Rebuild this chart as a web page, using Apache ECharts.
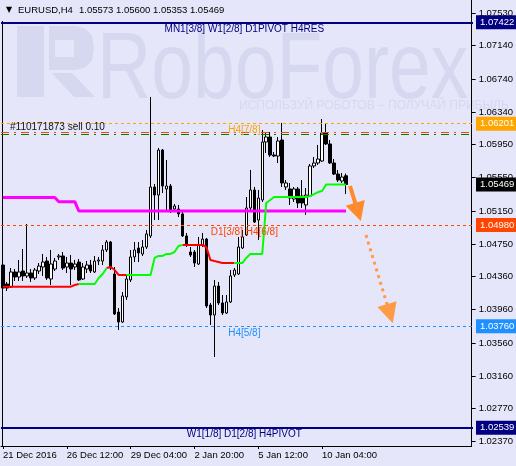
<!DOCTYPE html>
<html><head><meta charset="utf-8">
<script src="https://cdn.jsdelivr.net/npm/echarts@6/dist/echarts.min.js"></script>
<style>html,body{margin:0;padding:0;background:#E6E6FA;}#c{width:516px;height:466px;}</style>
</head><body><div id="c"></div>
<script>
// ---------- data ----------
const xTickLabels = ['21 Dec 2016','26 Dec 12:00','29 Dec 04:00','2 Jan 20:00','5 Jan 12:00','10 Jan 04:00'];
const yTickValues = [1.02370,1.02770,1.03160,1.03560,1.03960,1.04360,1.04750,1.05150,1.05550,1.05950,1.06340,1.06740,1.07140,1.07530];

const opens = [1.04498,1.04269,1.04233,1.04414,1.04354,1.04426,1.04366,1.04402,1.04342,1.04426,
1.04474,1.04546,1.04330,1.04450,1.04595,1.04607,1.04474,1.04522,1.04474,1.04534,
1.04330,1.04450,1.04498,1.04414,1.04546,1.04546,1.04679,1.04775,1.04390,1.03932,
1.03812,1.04113,1.04318,1.04595,1.04703,1.04631,1.04715,1.04848,1.05438,1.05341,
1.05883,1.05414,1.05450,1.05173,1.05173,1.05113,1.04848,1.04655,1.04655,1.04510,
1.04739,1.04811,1.04016,1.03896,1.04245,1.04041,1.03920,1.04053,1.04378,1.04390,
1.04703,1.04860,1.05185,1.05402,1.05040,1.05281,1.05980,1.06040,1.05823,1.05811,
1.06004,1.05438,1.05414,1.05293,1.05414,1.05329,1.05221,1.05329,1.05691,1.05727,
1.05751,1.06088,1.05956,1.05727,1.05594,1.05510,1.05573];
const closes = [1.04221,1.04221,1.04414,1.04354,1.04414,1.04366,1.04402,1.04342,1.04438,1.04486,
1.04534,1.04342,1.04510,1.04546,1.04607,1.04462,1.04522,1.04450,1.04510,1.04318,
1.04474,1.04498,1.04426,1.04546,1.04559,1.04679,1.04775,1.04462,1.03908,1.03812,
1.04125,1.04330,1.04595,1.04679,1.04643,1.04715,1.04872,1.05438,1.05341,1.05883,
1.05450,1.05450,1.05161,1.05209,1.05113,1.04848,1.04751,1.04619,1.04522,1.04739,
1.04811,1.04004,1.03896,1.04245,1.04041,1.03920,1.04053,1.04366,1.04438,1.04715,
1.04836,1.05185,1.05402,1.05016,1.05305,1.05980,1.06040,1.05823,1.05811,1.05992,
1.05486,1.05486,1.05305,1.05414,1.05245,1.05245,1.05341,1.05691,1.05727,1.05775,
1.06088,1.05956,1.05727,1.05594,1.05522,1.05558,1.05469];
const highs = [1.04522,1.04294,1.04462,1.04450,1.04559,1.04691,1.04992,1.04450,1.04462,1.04522,
1.04631,1.04595,1.04679,1.04583,1.04631,1.04655,1.04595,1.04619,1.04559,1.04571,
1.04522,1.04546,1.04559,1.04607,1.04595,1.04739,1.04799,1.04787,1.04474,1.03980,
1.04173,1.04378,1.04679,1.04775,1.04775,1.04799,1.04920,1.06522,1.05474,1.05908,
1.05896,1.05763,1.05474,1.05233,1.05221,1.05137,1.04884,1.04715,1.04679,1.04836,
1.04884,1.04824,1.04041,1.04318,1.04294,1.04137,1.04137,1.04438,1.04462,1.04836,
1.04920,1.05317,1.05643,1.05438,1.05402,1.06124,1.06088,1.06100,1.05859,1.06040,
1.06209,1.05522,1.05486,1.05438,1.05438,1.05522,1.05426,1.05715,1.05799,1.05944,
1.06257,1.06209,1.06004,1.05775,1.05643,1.05606,1.05600];
const lows = [1.04185,1.04185,1.04221,1.04306,1.04306,1.04306,1.04342,1.04294,1.04318,1.04390,
1.04366,1.04318,1.04257,1.04426,1.04559,1.04438,1.04402,1.04257,1.04438,1.04306,
1.04318,1.04402,1.04402,1.04402,1.04498,1.04498,1.04655,1.04438,1.03896,1.03715,
1.03800,1.04077,1.04294,1.04534,1.04534,1.04607,1.04691,1.04824,1.05040,1.05040,
1.05365,1.05161,1.05125,1.05137,1.05076,1.04836,1.04715,1.04595,1.04474,1.04498,
1.04715,1.03980,1.03776,1.03390,1.04016,1.03896,1.03908,1.04041,1.04354,1.04378,
1.04691,1.04848,1.05137,1.05004,1.04799,1.05257,1.05847,1.05799,1.05799,1.05727,
1.05438,1.05402,1.05221,1.05257,1.05185,1.05185,1.05101,1.05317,1.05667,1.05703,
1.05739,1.05944,1.05715,1.05582,1.05498,1.05486,1.05353];

const magentaLine = [1.05311,1.05311,1.05311,1.05311,1.05311,1.05311,1.05311,1.05311,1.05311,1.05311,
1.05311,1.05311,1.05311,1.05311,1.05261,1.05261,1.05261,1.05261,1.05261,1.05149,
1.05149,1.05149,1.05149,1.05149,1.05149,1.05149,1.05149,1.05149,1.05149,1.05149,
1.05149,1.05149,1.05149,1.05149,1.05149,1.05149,1.05149,1.05149,1.05149,1.05149,
1.05149,1.05149,1.05149,1.05149,1.05149,1.05149,1.05149,1.05149,1.05149,1.05149,
1.05149,1.05149,1.05149,1.05149,1.05149,1.05149,1.05149,1.05149,1.05149,1.05149,
1.05149,1.05149,1.05149,1.05149,1.05149,1.05149,1.05149,1.05149,1.05149,1.05149,
1.05149,1.05149,1.05149,1.05149,1.05149,1.05149,1.05149,1.05149,1.05149,1.05149,
1.05149,1.05149,1.05149,1.05149,1.05149,1.05149,1.05149];

const trendLine = [1.04237,1.04237,1.04237,1.04237,1.04237,1.04237,1.04237,1.04237,1.04237,1.04237,
1.04237,1.04237,1.04237,1.04237,1.04237,1.04237,1.04237,1.04237,1.04257,1.04270,
1.04270,1.04270,1.04270,1.04270,1.04342,1.04390,1.04462,1.04474,1.04438,1.04378,
1.04378,1.04378,1.04378,1.04378,1.04378,1.04378,1.04378,1.04378,1.04583,1.04607,
1.04607,1.04631,1.04631,1.04655,1.04727,1.04739,1.04739,1.04739,1.04739,1.04739,
1.04739,1.04715,1.04559,1.04546,1.04534,1.04522,1.04522,1.04522,1.04522,1.04522,
1.04522,1.04583,1.04631,1.04631,1.04631,1.04631,1.05245,1.05281,1.05317,1.05317,
1.05317,1.05317,1.05317,1.05317,1.05317,1.05317,1.05317,1.05329,1.05353,1.05377,
1.05389,1.05468,1.05468,1.05468,1.05468,1.05468,1.05468];
// colour of the segment leaving each bar (r = red, g = green)
const trendSegColor = ('rrrrrrrrrrrrrrrrrrr' + 'ggggggg' + 'rrrrr' + 'gggggggggggggg' + 'rrrrrrrrrrrrr' + 'gggggggggggggggggggggggggggg').split('');

const levelPrices = { h4res: 1.07422, h78: 1.06201, orderSell: 1.06097, orderSl: 1.06077, bid: 1.05469, h68: 1.04980, h58: 1.03760, h4pivot: 1.02539 };
const levelTexts = { h4res: 'MN1[3/8] W1[2/8] D1PIVOT H4RES', h78: 'H4[7/8]', order: '#110171873 sell 0.10', h68: 'D1[3/8] H4[6/8]', h58: 'H4[5/8]', h4pivot: 'W1[1/8] D1[2/8] H4PIVOT' };
const arrowSolid = [[87, 1.05450], [89, 1.05137]];
const arrowDotted = [[91, 1.04860], [97, 1.03912]];

// ---------- categories (H4 bars, weekends skipped) ----------
const SLOTS = 118;
const months = ['Jan','Feb','Mar','Apr','May','Jun','Jul','Aug','Sep','Oct','Nov','Dec'];
const categories = [];
(function(){
  let t = Date.UTC(2016, 11, 21, 20);
  while (categories.length < SLOTS) {
    const d = new Date(t); const wd = d.getUTCDay();
    if (wd !== 0 && wd !== 6) categories.push(d.getUTCDate() + ' ' + months[d.getUTCMonth()] + ' ' + String(d.getUTCHours()).padStart(2,'0') + ':00');
    t += 4 * 3600e3;
  }
})();

const candleData = opens.map((o, i) => [o, closes[i], lows[i], highs[i]]);
const redData = trendLine.map((v, i) => (trendSegColor[i] === 'r' || trendSegColor[i-1] === 'r') ? v : null);
const greenData = trendLine.map((v, i) => (trendSegColor[i] === 'g' || trendSegColor[i-1] === 'g') ? v : null);

const FONT = '"Liberation Sans", Arial, sans-serif';
const Y_MIN = 1.023181, Y_MAX = 1.076902;
const WM = '#D6D8EF';
const GRID_L = 1, GRID_R = 43, W = 516;
const CLEAR = 'rgba(0,0,0,0)';

function boxLabel(text, bg) {
  return { show: true, position: 'end', formatter: text, distance: 3, backgroundColor: bg, color: '#fff',
    fontFamily: FONT, fontSize: 9.5, padding: [2, 4, 1, 4], lineHeight: 11 };
}
// full-width horizontal level: starts at the plot's left edge, ends at its right edge
function hLine(price, color, width, type, label) {
  return [
    { coord: [0, price], x: GRID_L, lineStyle: { color: color, width: width, type: type }, label: label },
    { coord: [SLOTS - 1, price], x: W - GRID_R }
  ];
}
function textLine(price, text, color) {
  return [
    { coord: [30, price], lineStyle: { color: CLEAR, width: 0 }, label: { show: true, position: 'insideMiddleBottom', formatter: text, color: color, fontFamily: FONT, fontSize: 10, distance: 2 } },
    { coord: [91, price] }
  ];
}

const chart = echarts.init(document.getElementById('c'), null, { renderer: 'canvas' });
chart.setOption({
  animation: false,
  backgroundColor: '#E6E6FA',
  grid: { left: GRID_L, right: GRID_R, top: 0, bottom: 20 },
  xAxis: {
    type: 'category', data: categories, boundaryGap: true,
    axisLine: { show: true, lineStyle: { color: '#000', width: 1 } },
    axisTick: { show: true, alignWithLabel: true, length: 3, interval: (i) => i % 16 === 0 && i <= 80, lineStyle: { color: '#000' } },
    axisLabel: { show: true, interval: (i) => i % 16 === 0 && i <= 80, formatter: (v, i) => xTickLabels[i / 16],
      align: 'left', margin: 4, color: '#000', fontSize: 9.5, fontFamily: FONT },
    splitLine: { show: false }
  },
  yAxis: {
    type: 'value', position: 'right', min: Y_MIN, max: Y_MAX,
    axisLine: { show: true, lineStyle: { color: '#000', width: 1 } },
    axisTick: { show: true, length: 4, customValues: yTickValues, lineStyle: { color: '#000' } },
    axisLabel: { show: true, customValues: yTickValues, formatter: (v) => v.toFixed(5), margin: 7, color: '#000', fontSize: 9.5, fontFamily: FONT },
    splitLine: { show: false }
  },
  graphic: [
    { type: 'text', x: 97, y: 24, z: -10, silent: true, scaleX: 0.79,
      style: { text: 'RoboForex', font: '95px ' + FONT, fill: WM } },
    { type: 'text', x: 239, y: 100, z: -10, silent: true,
      style: { text: 'ИСПОЛЬЗУЙ РОБОТОВ – ПОЛУЧАЙ ПРИБЫЛЬ', font: '12px ' + FONT, fill: WM } },
    { type: 'rect', z: -10, silent: true, shape: { x: 17, y: 26, width: 27, height: 71 }, style: { fill: WM } },
    { type: 'polygon', z: -10, silent: true, shape: { points: [[49,26],[76,26],[86,29],[92,36],[94,48],[92,60],[86,67],[76,70],[49,70]] }, style: { fill: WM } },
    { type: 'rect', z: -9, silent: true, shape: { x: 55, y: 40, width: 19, height: 17 }, style: { fill: '#E6E6FA' } },
    { type: 'polygon', z: -10, silent: true, shape: { points: [[52,73],[72,73],[95,97],[74,97]] }, style: { fill: WM } },
    { type: 'text', x: 6, y: 6, silent: true, style: { text: '▼', font: '8px "DejaVu Sans", sans-serif', fill: '#000' } },
    { type: 'text', x: 18, y: 5, silent: true, style: { text: 'EURUSD,H4', font: '9.5px ' + FONT, fill: '#000' } },
    { type: 'text', x: 79, y: 5, silent: true, style: { text: '1.05573 1.05600 1.05353 1.05469', font: '9.5px ' + FONT, fill: '#000' } },
    { type: 'line', silent: true, shape: { x1: 2.5, y1: 21, x2: 2.5, y2: 446 }, style: { stroke: '#000', lineWidth: 1 } }
  ],
  series: [
    {
      type: 'candlestick', data: candleData, barWidth: 3, z: 3,
      itemStyle: { color: '#fff', color0: '#000', borderColor: '#000', borderColor0: '#000', borderWidth: 1 }
    },
    {
      type: 'line', data: [], z: 2,
      markLine: {
        silent: true, symbol: ['none', 'none'], animation: false,
        data: [
          hLine(levelPrices.h4res, '#000080', 2, 'solid', boxLabel('1.07422', '#000080')),
          hLine(levelPrices.h78, '#FFA500', 1, [3, 3], boxLabel('1.06201', '#FFA500')),
          hLine(levelPrices.orderSell, '#FF4500', 1, [8, 5, 2, 5], { show: true, position: 'insideStartTop', formatter: levelTexts.order, distance: [9, 0], color: '#111', fontFamily: FONT, fontSize: 10 }),
          hLine(levelPrices.orderSl, '#008000', 1, [8, 5, 2, 5], { show: false }),
          hLine(levelPrices.bid, CLEAR, 1, 'solid', boxLabel('1.05469', '#000')),
          hLine(levelPrices.h68, '#FF4500', 1, [3, 3], boxLabel('1.04980', '#FF4500')),
          hLine(levelPrices.h58, '#1E90FF', 1, [3, 3], boxLabel('1.03760', '#1E90FF')),
          hLine(levelPrices.h4pivot, '#000080', 2, 'solid', boxLabel('1.02539', '#000080')),
          textLine(levelPrices.h4res, levelTexts.h4res, '#000080'),
          textLine(levelPrices.h78, levelTexts.h78, '#FFA500'),
          textLine(levelPrices.h68, levelTexts.h68, '#FF4500'),
          textLine(levelPrices.h58, levelTexts.h58, '#1E90FF'),
          textLine(levelPrices.h4pivot, levelTexts.h4pivot, '#000080')
        ]
      }
    },
    { type: 'line', data: magentaLine, showSymbol: false, z: 4, lineStyle: { color: '#FF00FF', width: 3 }, itemStyle: { color: '#FF00FF' } },
    { type: 'line', data: redData, showSymbol: false, z: 4, connectNulls: false, lineStyle: { color: '#FF0000', width: 2 }, itemStyle: { color: '#FF0000' } },
    { type: 'line', data: greenData, showSymbol: false, z: 4, connectNulls: false, lineStyle: { color: '#00FF00', width: 2 }, itemStyle: { color: '#00FF00' } },
    {
      type: 'line', data: [], z: 5,
      markLine: {
        silent: true, animation: false,
        data: [
          [ { coord: arrowSolid[0], symbol: 'none', lineStyle: { color: '#FF8A2B', width: 4, type: 'solid' } },
            { coord: arrowSolid[1], symbol: 'triangle', symbolSize: [20, 19] } ],
          [ { coord: arrowDotted[0], symbol: 'none', lineStyle: { color: '#FF9A48', width: 3, type: [3, 4], cap: 'butt' } },
            { coord: arrowDotted[1], symbol: 'triangle', symbolSize: [20, 20] } ]
        ],
        label: { show: false }
      }
    }
  ]
});
</script></body></html>
